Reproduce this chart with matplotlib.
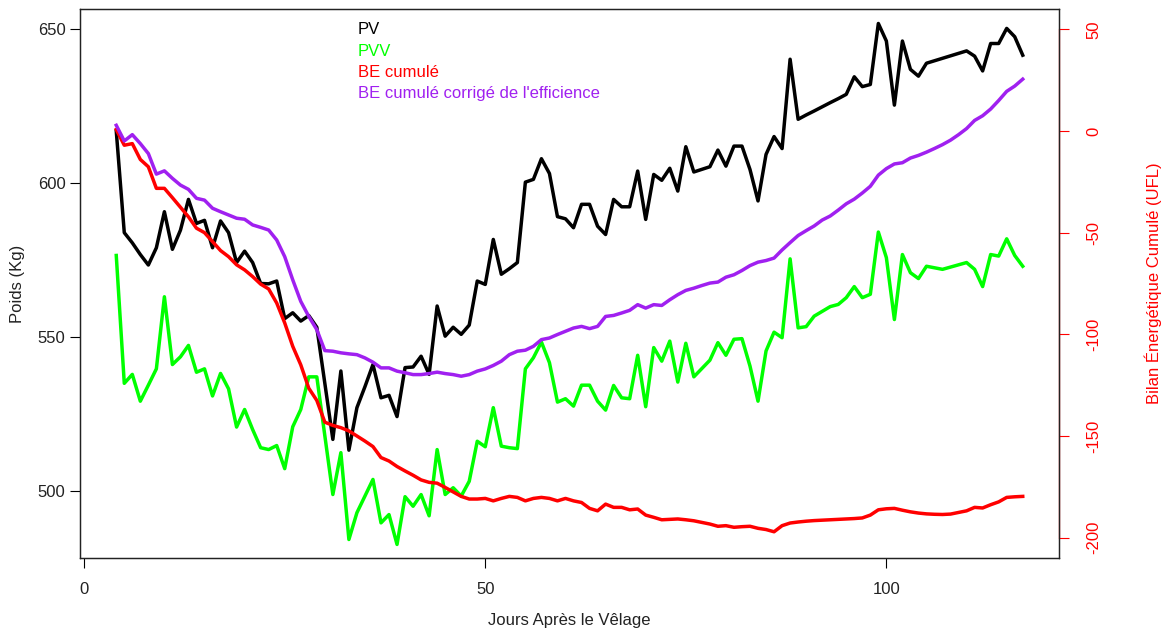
import matplotlib
matplotlib.use("Agg")
import matplotlib.pyplot as plt

plt.rcParams['font.family'] = ['Liberation Sans', 'DejaVu Sans']
plt.rcParams['axes.unicode_minus'] = False

# ---- data: PV / PVV (kg) ----
days_pv = [4, 5, 6, 7, 8, 9, 10, 11, 12, 13, 14, 15, 16, 17, 18, 19, 20, 21, 22, 23,
           24, 25, 26, 27, 28, 29, 31, 32, 33, 34, 35, 36, 37, 38, 39, 40, 41, 42, 43,
           44, 45, 46, 47, 48, 49, 50, 51, 52, 53, 54, 55, 56, 57, 58, 59, 60, 61, 62,
           63, 64, 65, 66, 67, 68, 69, 70, 71, 72, 73, 74, 75, 76, 78, 79, 80, 81, 82,
           83, 84, 85, 86, 87, 88, 89, 90, 91, 93, 94, 95, 96, 97, 98, 99, 100, 101,
           102, 103, 104, 105, 107, 110, 111, 112, 113, 114, 115, 116, 117]
pv = [617.0, 584.0, 580.7, 576.9, 573.5, 579.1, 590.8, 578.6, 584.8, 594.8, 587.0, 588.0,
      579.1, 587.8, 584.0, 574.3, 578.0, 574.3, 567.5, 567.4, 568.3, 556.1, 558.0, 555.3,
      557.1, 553.3, 516.9, 539.1, 513.4, 527.2, 534.0, 541.2, 530.4, 531.2, 524.3, 540.2,
      540.4, 543.9, 538.0, 560.2, 550.4, 553.3, 551.0, 554.0, 568.3, 567.2, 581.8, 570.5,
      572.3, 574.3, 600.4, 601.3, 608.0, 603.2, 589.2, 588.5, 585.6, 593.2, 593.2, 586.1,
      583.4, 594.8, 592.4, 592.4, 604.0, 588.3, 602.9, 601.0, 604.9, 597.5, 611.9, 603.7,
      605.4, 610.8, 605.6, 612.1, 612.1, 604.5, 594.3, 609.4, 615.2, 611.3, 640.3, 620.8,
      622.2, 623.5, 626.2, 627.5, 628.9, 634.6, 631.4, 632.1, 651.9, 646.2, 625.4, 646.2,
      637.0, 634.8, 639.0, 640.6, 643.0, 641.3, 636.5, 645.4, 645.4, 650.3, 647.6, 641.6]
pvv = [576.6, 535.1, 538.0, 529.3, 534.5, 539.8, 563.2, 541.2, 543.7, 547.4, 538.7, 539.8,
       531.0, 538.3, 533.3, 520.9, 526.6, 520.1, 514.2, 513.6, 514.9, 507.4, 521.0, 526.6,
       537.2, 537.2, 499.0, 512.6, 484.4, 493.1, 498.5, 503.9, 489.8, 492.5, 482.8, 498.3,
       495.2, 499.0, 492.1, 513.6, 499.0, 501.2, 498.5, 503.3, 516.3, 514.5, 527.2, 514.7,
       514.2, 513.9, 539.8, 543.4, 548.5, 541.8, 529.0, 530.1, 527.7, 534.5, 534.5, 529.3,
       526.4, 534.4, 530.4, 530.1, 544.2, 527.5, 546.7, 542.3, 548.8, 535.5, 548.1, 537.2,
       542.6, 548.3, 544.2, 549.4, 549.6, 540.7, 529.3, 545.6, 551.7, 549.9, 575.5, 553.1,
       553.5, 556.9, 560.0, 560.7, 562.9, 566.5, 562.9, 564.0, 584.2, 575.9, 555.8, 576.9,
       571.0, 569.1, 573.1, 572.1, 574.3, 572.1, 566.5, 576.9, 576.4, 582.0, 576.6, 573.1]

# ---- data: cumulative energy balance (UFL), daily from day 4 to 117 ----
days_be = list(range(4, 118))
be = [0.7, -7.0, -6.2, -14.0, -17.6, -28.2, -28.2, -32.8, -37.5, -42.2, -47.8, -50.0,
      -54.4, -58.8, -61.8, -65.8, -68.3, -71.6, -75.3, -77.7, -84.6, -94.4, -105.9, -115.0,
      -126.5, -132.5, -143.2, -144.8, -145.9, -147.5, -150.0, -152.5, -155.2, -160.6, -162.3,
      -165.0, -167.2, -169.3, -171.6, -172.8, -173.2, -175.3, -177.5, -179.7, -181.0, -181.0,
      -180.7, -181.9, -180.7, -179.7, -180.2, -181.9, -180.7, -180.2, -180.7, -181.9, -180.7,
      -181.9, -182.7, -185.6, -186.8, -183.5, -185.1, -185.1, -186.3, -185.9, -188.9, -190.0,
      -191.2, -191.0, -190.8, -191.2, -191.7, -192.5, -193.3, -194.4, -194.1, -194.9, -194.6,
      -194.4, -195.4, -196.0, -197.1, -194.1, -192.8, -192.3, -191.9, -191.6, -191.4, -191.2,
      -191.0, -190.8, -190.6, -190.3, -188.9, -186.3, -185.8, -185.6, -186.5, -187.3, -187.9,
      -188.3, -188.5, -188.6, -188.4, -187.6, -186.8, -185.1, -185.4, -183.8, -182.4, -180.2,
      -179.9, -179.7]
be_corr = [2.8, -4.9, -1.8, -6.2, -11.1, -21.2, -19.6, -23.3, -26.6, -28.7, -33.1, -34.0,
           -38.0, -39.7, -41.3, -42.9, -43.4, -46.2, -47.4, -48.7, -53.6, -61.8, -73.2, -83.8,
           -91.2, -97.7, -108.0, -108.3, -109.1, -109.6, -110.0, -111.6, -113.7, -116.5, -116.5,
           -118.1, -118.9, -119.8, -119.8, -119.3, -118.6, -119.3, -119.8, -120.6, -119.8, -118.1,
           -117.0, -115.3, -113.2, -110.0, -108.3, -107.8, -105.9, -102.6, -101.8, -100.1, -98.5,
           -96.9, -96.1, -97.2, -96.1, -91.2, -90.7, -89.5, -88.2, -85.4, -87.1, -85.4, -85.8,
           -83.0, -80.5, -78.4, -77.3, -76.0, -74.8, -74.3, -71.9, -70.7, -68.6, -66.2, -64.5,
           -63.7, -62.5, -58.5, -54.9, -51.4, -49.0, -46.7, -43.8, -41.8, -38.9, -35.8, -33.5,
           -30.5, -27.2, -21.7, -18.5, -16.2, -15.6, -13.3, -12.0, -10.4, -8.6, -6.7, -4.5,
           -1.8, 1.2, 5.2, 7.5, 10.8, 15.0, 19.5, 22.1, 25.5]

x_ticks = [0, 50, 100]
left_ticks = [500, 550, 600, 650]
right_ticks = [-200, -150, -100, -50, 0, 50]
legend_labels = ["PV", "PVV", "BE cumulé", "BE cumulé corrigé de l'efficience"]

C_PV, C_PVV, C_BE, C_BEC = "black", "#00FF00", "#FF0000", "#A020F0"
FS = 12
W, H = 1166, 634

fig = plt.figure(figsize=(W / 100, H / 100), dpi=100)
ax = fig.add_axes([80 / W, 1 - 558 / H, 979 / W, 549 / H])

ax.plot(days_pv, pv, color=C_PV, lw=2.5)
ax.plot(days_pv, pvv, color=C_PVV, lw=2.5)
ax.set_xlim(-0.52, 121.52)
ax.set_ylim(478.4, 656.6)
ax.set_xticks(x_ticks)
ax.set_yticks(left_ticks)
ax.tick_params(axis='x', direction='out', length=7.5, width=0.8, labelsize=FS, pad=10,
               labelcolor='#222222')
ax.tick_params(axis='y', direction='out', length=7.5, width=0.8, labelsize=FS, pad=3,
               labelcolor='#222222')

ax2 = ax.twinx()
ax2.plot(days_be, be, color=C_BE, lw=2.5)
ax2.plot(days_be, be_corr, color=C_BEC, lw=2.5)
ax2.set_ylim(-210, 60)
ax2.set_yticks(right_ticks)
ax2.tick_params(axis='y', direction='out', length=7.5, width=0.8, labelsize=FS,
                colors=C_BE, pad=12)
for lab in ax2.get_yticklabels():
    lab.set_rotation(90)
    lab.set_va('center')
ax2.plot([1, 1], [right_ticks[0], right_ticks[-1]], transform=ax2.get_yaxis_transform(),
         color=C_BE, lw=0.9, clip_on=False)

for a in (ax, ax2):
    for s in a.spines.values():
        s.set_color('#222222')
        s.set_linewidth(0.9)

# legend (text only)
for lab, col, yp in zip(legend_labels, [C_PV, C_PVV, C_BE, C_BEC], [30, 51.5, 72.5, 93.3]):
    fig.text(358 / W, 1 - yp / H, lab, color=col, fontsize=FS, ha='left', va='center')

fig.text(569.5 / W, 1 - 621 / H, "Jours Après le Vêlage", fontsize=FS, color='#222222',
         ha='center', va='center')
fig.text(18 / W, 1 - 283.5 / H, "Poids (Kg)", fontsize=FS, color='#222222',
         ha='center', va='center', rotation=90)
fig.text(1153 / W, 1 - 283.5 / H, "Bilan Énergétique Cumulé (UFL)", fontsize=FS, color=C_BE,
         ha='center', va='center', rotation=90)

fig.savefig("out.png", dpi=100)
